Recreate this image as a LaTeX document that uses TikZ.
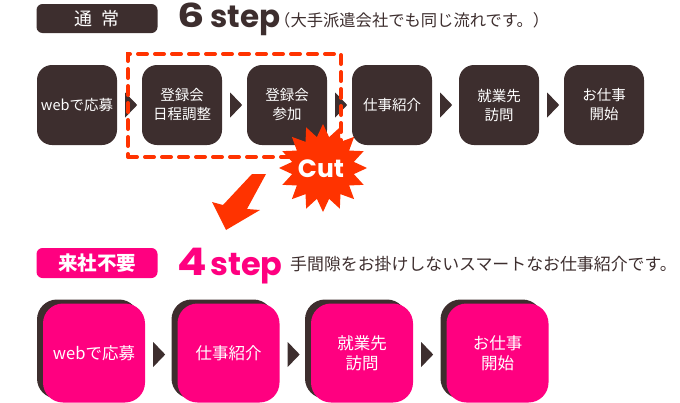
\documentclass[tikz,border=0pt]{standalone}
\usepackage{fontspec}
\usepackage{graphicx}
\setmainfont{Noto Sans CJK JP}
\newfontfamily\jp{Noto Sans CJK JP}
\newfontfamily\pop{Poppins}
\usetikzlibrary{shapes.geometric,calc}
\definecolor{dbrown}{HTML}{3D2E2E}
\definecolor{hpink}{HTML}{FF0080}
\definecolor{cutred}{HTML}{FF3300}
\begin{document}
\begin{tikzpicture}[x=1pt,y=-1pt,
 topbox/.style={fill=dbrown, rounded corners=15pt, minimum width=80pt, minimum height=80pt, inner sep=0pt, text=white, align=center, font=\jp\fontsize{14.5}{19}\selectfont},
 shadowbox/.style={fill=dbrown, rounded corners=20pt, minimum width=102pt, minimum height=99pt, inner sep=0pt},
 pinkbox/.style={fill=hpink, rounded corners=20pt, minimum width=102pt, minimum height=99pt, inner sep=0pt, text=white, align=center, font=\jp\fontsize{16.5}{20}\selectfont},
 tag/.style={rounded corners=6pt, minimum width=121pt, inner sep=0pt, text=white},
 bigword/.style={anchor=base west, inner sep=0pt, font=\pop\bfseries\fontsize{31}{31}\selectfont},
 subtext/.style={anchor=west, inner sep=0pt, text=dbrown},
 cutline/.style={draw=cutred, line width=4pt, dash pattern=on 9pt off 8pt, line cap=round, minimum width=213pt, minimum height=103pt, inner sep=0pt}]
\useasboundingbox (0,0) rectangle (680,402);

% ---- top header
\node[tag, fill=dbrown, minimum height=29pt, font=\jp\fontsize{18}{18}\selectfont] (lab1) at (97,18.5) {通\hspace{10pt}常};
\node[bigword, text=dbrown, font=\pop\bfseries\fontsize{33}{33}\selectfont] (n6) at (177,27) {\scalebox{1.3}[1]{6}};
\node[bigword, text=dbrown] (s6) at (210,27) {step};
\node[subtext, font=\jp\fontsize{16.3}{16}\selectfont] (sub6) at (274,20) {（大手派遣会社でも同じ流れです。）};

% ---- top row
\node[topbox] (a1) at (77,105) {webで応募};
\node[topbox] (a2) at (182,105) {登録会\\日程調整};
\node[topbox] (a3) at (287,105) {登録会\\参加};
\node[topbox] (a4) at (392,105) {仕事紹介};
\node[topbox] (a5) at (499,105) {就業先\\訪問};
\node[topbox] (a6) at (604,105) {お仕事\\開始};
\foreach \p in {a1,a2,a3,a4,a5}{
  \fill[dbrown] ($(\p.east)+(8,-12.5)$) -- ++(12,12.5) -- ++(-12,12.5) -- cycle;
}

% ---- cut marker
\node[cutline] (cutbox) at (234.5,105.5) {};
\node[star, star points=16, star point ratio=1.4, fill=cutred, minimum size=88pt, inner sep=0pt] (burst) at (323,168) {};
\node[text=white, inner sep=0pt, font=\pop\bfseries\fontsize{25}{25}\selectfont] (cuttxt) at (321,169) {Cut};
\fill[cutred] (252,174) -- (266,174) -- (247,209) -- (260,210) -- (226,230) -- (212,202) -- (223,205) -- cycle;

% ---- bottom header
\node[tag, fill=hpink, minimum height=30pt, font=\jp\bfseries\fontsize{19.5}{20}\selectfont] (lab2) at (97,263) {来社不要};
\node[bigword, text=hpink, font=\pop\bfseries\fontsize{38}{38}\selectfont] (n4) at (177,275) {\scalebox{1.15}[1]{4}};
\node[bigword, text=hpink, font=\pop\bfseries\fontsize{32}{32}\selectfont] (s4) at (210,275) {step};
\node[subtext, font=\jp\fontsize{16.9}{17}\selectfont] (sub4) at (290,264.5) {手間隙をお掛けしないスマートなお仕事紹介です。};

% ---- bottom row
\node[shadowbox] (b1s) at (88,349) {};
\node[shadowbox] (b2s) at (222.5,349) {};
\node[shadowbox] (b3s) at (356,349) {};
\node[shadowbox] (b4s) at (491.5,349) {};
\node[pinkbox] (b1) at (94,353) {webで応募};
\node[pinkbox] (b2) at (228.5,353) {仕事紹介};
\node[pinkbox] (b3) at (362,353) {就業先\\訪問};
\node[pinkbox] (b4) at (497.5,353) {お仕事\\開始};
\foreach \p in {b1,b2,b3}{
  \fill[dbrown] ($(\p.east)+(8,-11)$) -- ++(12,12.5) -- ++(-12,12.5) -- cycle;
}
\end{tikzpicture}
\end{document}
